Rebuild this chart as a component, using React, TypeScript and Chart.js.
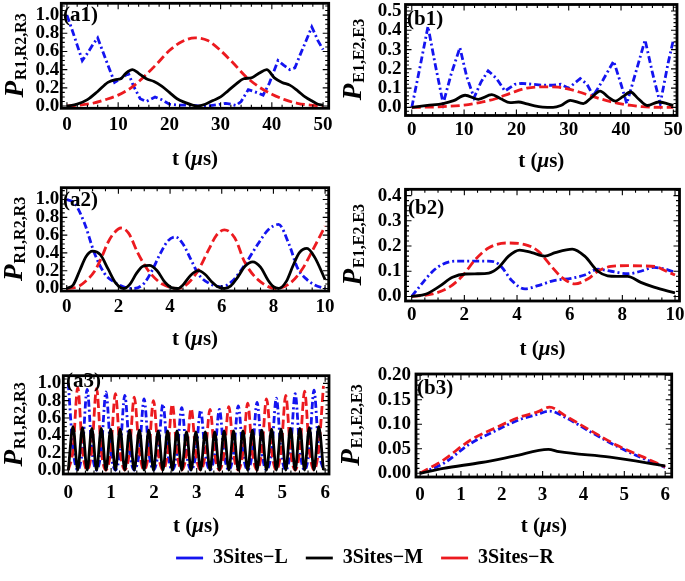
import React, { useEffect, useRef } from 'react';
import { Chart, registerables } from 'chart.js';

Chart.register(...registerables);

const SERIF = '"Liberation Serif", "Times New Roman", Times, serif';
const BLUE = '#1414f0';
const RED = '#ec1a1f';
const BLACK = '#000000';
const DASH_L = [7, 3, 2, 3];
const DASH_R = [9, 4];
const LINE_W = 2.8;
const LEGEND_LABELS = ['3Sites\u2212L', '3Sites\u2212M', '3Sites\u2212R'];

// ---------- (a1) ----------
const a1_tL = [0, 1, 2, 3, 4, 5, 6, 7, 8, 9.3, 10.5, 12, 13, 14.3, 15.5, 17.2, 18.5, 20, 22, 24, 26, 28, 30, 31, 32, 33, 34, 35.4, 36.5, 38.3, 39.5, 41.2, 42.3, 43.5, 44.5, 45.5, 46.7, 47.8, 49, 50];
const a1_L = [1.0, 0.84, 0.67, 0.5, 0.58, 0.67, 0.75, 0.6, 0.45, 0.26, 0.3, 0.36, 0.22, 0.08, 0.05, 0.1, 0.07, 0.02, 0.01, 0.01, 0.0, 0.005, 0.02, 0.03, 0.02, 0.005, 0.05, 0.18, 0.16, 0.12, 0.25, 0.5, 0.45, 0.4, 0.42, 0.56, 0.72, 0.87, 0.72, 0.62];
const a1_tM = [0, 2, 4, 6, 8, 9.5, 10.5, 11.5, 12.8, 14, 15.5, 17, 18.5, 20, 21.5, 23, 24.5, 25.5, 27, 28.5, 30, 31.5, 33, 34.5, 36, 37.5, 39, 40.5, 42, 43.5, 45, 46.5, 48, 49, 50];
const a1_M = [0, 0.02, 0.07, 0.16, 0.26, 0.29, 0.3, 0.36, 0.4, 0.36, 0.3, 0.27, 0.22, 0.15, 0.08, 0.04, 0.01, 0.0, 0.02, 0.06, 0.1, 0.17, 0.24, 0.3, 0.31, 0.36, 0.4, 0.31, 0.26, 0.23, 0.17, 0.1, 0.05, 0.02, 0.01];
const a1_tR = [0, 2.5, 5, 7.5, 10, 12.5, 15, 17.5, 20, 22.5, 25, 27.5, 30, 32.5, 35, 37.5, 40, 42.5, 45, 47.5, 50];
const a1_R = [0, 0.01, 0.03, 0.07, 0.12, 0.2, 0.32, 0.46, 0.61, 0.71, 0.75, 0.72, 0.61, 0.47, 0.32, 0.21, 0.13, 0.07, 0.03, 0.01, 0.0];

// ---------- (b1) ----------
const b1_tL = [0, 1.5, 3.1, 4.5, 6, 7.5, 9.2, 10.5, 11.9, 13.2, 14.6, 16.2, 17.8, 19.7, 21, 23, 25, 27, 28.5, 30, 32.2, 33.5, 34.7, 36.5, 38.6, 40, 41.1, 42.8, 44.6, 46, 47.5, 49, 50];
const b1_L = [0, 0.2, 0.42, 0.22, 0.02, 0.17, 0.31, 0.16, 0.05, 0.13, 0.19, 0.15, 0.085, 0.12, 0.125, 0.12, 0.115, 0.115, 0.12, 0.1, 0.15, 0.12, 0.06, 0.14, 0.24, 0.12, 0.02, 0.18, 0.35, 0.18, 0.02, 0.23, 0.35];
const b1_tM = [0, 3, 6, 8, 10.2, 12.7, 15.3, 17, 18.8, 20.4, 22, 23.5, 25, 27, 28.5, 30.3, 32.8, 34.3, 36, 37.5, 38.9, 40.3, 41.8, 43.3, 45, 47.2, 50];
const b1_M = [0, 0.01, 0.02, 0.035, 0.063, 0.042, 0.066, 0.045, 0.025, 0.028, 0.018, 0.008, 0.002, 0.0, 0.01, 0.037, 0.02, 0.05, 0.085, 0.055, 0.033, 0.055, 0.08, 0.045, 0.01, 0.028, 0.01];
const b1_tR = [0, 5, 10, 13, 16, 19, 22, 25, 28, 30, 32, 34, 36, 38, 40, 42, 44, 46, 48, 50];
const b1_R = [0, 0.003, 0.012, 0.025, 0.045, 0.075, 0.1, 0.107, 0.105, 0.095, 0.08, 0.062, 0.045, 0.03, 0.018, 0.01, 0.004, 0.001, 0, 0];

// ---------- (a2) ----------
const a2_tL = [0, 0.3, 0.68, 1.07, 1.46, 1.85, 2.2, 2.6, 3.0, 3.3, 3.6, 3.9, 4.2, 4.5, 4.8, 5.1, 5.5, 6.0, 6.4, 6.9, 7.4, 7.8, 8.2, 8.6, 8.95, 9.3, 9.6, 10];
const a2_L = [1.0, 0.96, 0.74, 0.4, 0.17, 0.07, 0.02, 0.0, 0.06, 0.2, 0.38, 0.53, 0.58, 0.5, 0.33, 0.16, 0.06, 0.02, 0.08, 0.27, 0.5, 0.66, 0.72, 0.5, 0.22, 0.1, 0.04, 0.0];
const a2_tM = [0, 0.25, 0.5, 0.75, 1.0, 1.3, 1.6, 1.9, 2.2, 2.45, 2.7, 2.95, 3.2, 3.5, 3.8, 4.05, 4.3, 4.5, 4.8, 5.1, 5.35, 5.6, 5.85, 6.1, 6.35, 6.6, 6.9, 7.2, 7.5, 7.8, 8.0, 8.2, 8.5, 8.75, 9.0, 9.3, 9.6, 10];
const a2_M = [0, 0.04, 0.2, 0.36, 0.42, 0.38, 0.22, 0.06, 0.0, 0.05, 0.17, 0.25, 0.26, 0.2, 0.07, 0.01, 0.0, 0.04, 0.15, 0.2, 0.16, 0.08, 0.02, 0.0, 0.03, 0.12, 0.25, 0.3, 0.24, 0.09, 0.02, 0.0, 0.08, 0.25, 0.4, 0.45, 0.35, 0.1];
const a2_tR = [0, 0.43, 0.8, 1.07, 1.35, 1.6, 1.85, 2.1, 2.4, 2.75, 3.0, 3.27, 3.7, 4.3, 4.7, 5.1, 5.5, 5.8, 6.1, 6.5, 6.9, 7.4, 8.1, 8.6, 9.1, 9.5, 10];
const a2_R = [0, 0.02, 0.1, 0.19, 0.35, 0.52, 0.63, 0.68, 0.62, 0.4, 0.27, 0.16, 0.05, 0.0, 0.06, 0.21, 0.44, 0.6, 0.66, 0.57, 0.29, 0.1, 0.0, 0.05, 0.21, 0.42, 0.7];

// ---------- (b2) ----------
const b2_tL = [0, 0.43, 0.8, 1.18, 1.68, 2.3, 2.9, 3.2, 3.43, 3.8, 4.3, 4.8, 5.4, 6.06, 6.57, 7.07, 7.57, 8.2, 8.7, 9.2, 9.57, 10];
const b2_L = [0, 0.056, 0.1, 0.128, 0.14, 0.14, 0.14, 0.135, 0.115, 0.063, 0.03, 0.043, 0.063, 0.072, 0.085, 0.108, 0.1, 0.09, 0.1, 0.115, 0.11, 0.095];
const b2_tM = [0, 0.55, 1.05, 1.55, 2.05, 2.5, 2.93, 3.3, 3.68, 4.1, 4.56, 5.06, 5.45, 6.1, 6.57, 7.07, 7.44, 7.8, 8.2, 8.7, 9.2, 10];
const b2_M = [0, 0.01, 0.04, 0.076, 0.089, 0.09, 0.093, 0.115, 0.16, 0.184, 0.174, 0.16, 0.174, 0.188, 0.16, 0.1, 0.082, 0.08, 0.08, 0.056, 0.037, 0.014];
const b2_tR = [0, 0.8, 1.43, 1.93, 2.43, 2.93, 3.6, 4.3, 4.8, 5.3, 5.7, 6.2, 6.7, 7.07, 7.57, 8.2, 8.8, 9.3, 9.57, 10];
const b2_R = [0, 0.01, 0.037, 0.082, 0.148, 0.193, 0.212, 0.206, 0.18, 0.12, 0.076, 0.05, 0.07, 0.1, 0.119, 0.122, 0.121, 0.118, 0.105, 0.085];

// ---------- (a3) ----------
const a3_t = [0, 0.11, 0.22, 0.33, 0.44, 0.55, 0.66, 0.77, 0.88, 0.99, 1.10, 1.21, 1.32, 1.43, 1.54, 1.66, 1.77, 1.88, 1.99, 2.10, 2.21, 2.32, 2.43, 2.54, 2.65, 2.76, 2.87, 2.98, 3.09, 3.20, 3.31, 3.42, 3.53, 3.64, 3.75, 3.86, 3.97, 4.08, 4.19, 4.30, 4.41, 4.52, 4.63, 4.75, 4.86, 4.97, 5.08, 5.19, 5.30, 5.41, 5.52, 5.63, 5.74, 5.85, 5.96];
const a3_L = [1.0, 0.24, 0, 0.23, 0.93, 0.23, 0, 0.23, 0.9, 0.22, 0, 0.22, 0.86, 0.22, 0, 0.21, 0.82, 0.21, 0, 0.2, 0.76, 0.2, 0, 0.19, 0.72, 0.19, 0, 0.18, 0.69, 0.18, 0, 0.18, 0.7, 0.18, 0, 0.19, 0.74, 0.19, 0, 0.2, 0.78, 0.2, 0, 0.21, 0.83, 0.21, 0, 0.22, 0.88, 0.22, 0, 0.23, 0.92, 0.23, 0];
const a3_M = [0, 0.5, 0, 0.49, 0, 0.48, 0, 0.48, 0, 0.47, 0, 0.47, 0, 0.46, 0, 0.46, 0, 0.46, 0, 0.45, 0, 0.45, 0, 0.45, 0, 0.44, 0, 0.44, 0, 0.44, 0, 0.44, 0, 0.45, 0, 0.45, 0, 0.45, 0, 0.46, 0, 0.46, 0, 0.47, 0, 0.47, 0, 0.48, 0, 0.48, 0, 0.49, 0, 0.5, 0];
const a3_R = [0, 0.23, 0.95, 0.23, 0, 0.23, 0.94, 0.22, 0, 0.22, 0.88, 0.22, 0, 0.21, 0.84, 0.21, 0, 0.2, 0.8, 0.2, 0, 0.19, 0.76, 0.19, 0, 0.18, 0.71, 0.18, 0, 0.18, 0.7, 0.18, 0, 0.19, 0.73, 0.19, 0, 0.2, 0.77, 0.2, 0, 0.21, 0.82, 0.21, 0, 0.22, 0.86, 0.22, 0, 0.23, 0.91, 0.23, 0, 0.24, 0.97];

// ---------- (b3) ----------
const b3_tLR = [0, 0.57, 1.22, 1.8, 2.45, 2.86, 3.17, 3.6, 4.16, 4.82, 5.47, 6];
const b3_L = [0, 0.02, 0.06, 0.085, 0.11, 0.12, 0.127, 0.112, 0.085, 0.055, 0.03, 0.012];
const b3_R = [0, 0.027, 0.067, 0.091, 0.115, 0.125, 0.135, 0.115, 0.088, 0.057, 0.033, 0.013];
const b3_tM = [0, 0.57, 1.5, 2.3, 3.14, 3.4, 4.65, 6];
const b3_M = [0, 0.01, 0.022, 0.035, 0.049, 0.044, 0.033, 0.015];

// ---------- tick labels ----------
const X_TICKS_50 = [0, 10, 20, 30, 40, 50];
const X_TICKS_10 = [0, 2, 4, 6, 8, 10];
const X_TICKS_6 = [0, 1, 2, 3, 4, 5, 6];
const Y_TICKS_A = [0, 0.2, 0.4, 0.6, 0.8, 1.0];
const Y_TICKS_B1 = [0, 0.1, 0.2, 0.3, 0.4, 0.5];
const Y_TICKS_B2 = [0, 0.1, 0.2, 0.3, 0.4];
const Y_TICKS_B3 = [0, 0.05, 0.1, 0.15, 0.2];

type Curve = { t: number[]; v: number[]; smooth: boolean };
type Box = { left: number; top: number; right: number; bottom: number };
type Panel = {
  label: string; sub: string;
  L: Curve; M: Curve; R: Curve;
  xTicks: number[]; xMinor: number; yTicks: number[]; yMinor: number; yDec: number;
  xMin: number; xMax: number; yMin: number; yMax: number;
  canvas: { left: number; top: number; width: number; height: number };
  area: Box;
  tickY: number; titleY: number; titleX: number; labelX: number; labelY: number; yPad: number;
};

const PANELS: Panel[] = [
  {
    label: '(a1)', sub: 'R1,R2,R3',
    L: { t: a1_tL, v: a1_L, smooth: false }, M: { t: a1_tM, v: a1_M, smooth: true }, R: { t: a1_tR, v: a1_R, smooth: true },
    xTicks: X_TICKS_50, xMinor: 2, yTicks: Y_TICKS_A, yMinor: 0.05, yDec: 1,
    xMin: -1.1, xMax: 51.1, yMin: -0.025, yMax: 1.13,
    canvas: { left: 0, top: 0, width: 340, height: 174 },
    area: { left: 61.3, top: 3.3, right: 328.7, bottom: 108.3 },
    tickY: 125, titleY: 160, titleX: 23, labelX: 63, labelY: 16, yPad: 2,
  },
  {
    label: '(b1)', sub: 'E1,E2,E3',
    L: { t: b1_tL, v: b1_L, smooth: false }, M: { t: b1_tM, v: b1_M, smooth: true }, R: { t: b1_tR, v: b1_R, smooth: true },
    xTicks: X_TICKS_50, xMinor: 2, yTicks: Y_TICKS_B1, yMinor: 0.02, yDec: 1,
    xMin: -1.2, xMax: 50.7, yMin: -0.042, yMax: 0.534,
    canvas: { left: 340, top: 0, width: 345, height: 178 },
    area: { left: 405.5, top: 4.5, right: 677, bottom: 115.5 },
    tickY: 130, titleY: 162, titleX: 361, labelX: 407, labelY: 20, yPad: 4,
  },
  {
    label: '(a2)', sub: 'R1,R2,R3',
    L: { t: a2_tL, v: a2_L, smooth: true }, M: { t: a2_tM, v: a2_M, smooth: true }, R: { t: a2_tR, v: a2_R, smooth: true },
    xTicks: X_TICKS_10, xMinor: 0.5, yTicks: Y_TICKS_A, yMinor: 0.05, yDec: 1,
    xMin: -0.21, xMax: 10.14, yMin: -0.028, yMax: 1.133,
    canvas: { left: 0, top: 176, width: 340, height: 180 },
    area: { left: 61.3, top: 187.7, right: 328.7, bottom: 291 },
    tickY: 306.7, titleY: 340, titleX: 22, labelX: 63, labelY: 201, yPad: 2,
  },
  {
    label: '(b2)', sub: 'E1,E2,E3',
    L: { t: b2_tL, v: b2_L, smooth: true }, M: { t: b2_tM, v: b2_M, smooth: true }, R: { t: b2_tR, v: b2_R, smooth: true },
    xTicks: X_TICKS_10, xMinor: 0.5, yTicks: Y_TICKS_B2, yMinor: 0.02, yDec: 1,
    xMin: -0.235, xMax: 10.17, yMin: -0.018, yMax: 0.425,
    canvas: { left: 340, top: 176, width: 345, height: 188 },
    area: { left: 405.5, top: 189.3, right: 679.5, bottom: 301 },
    tickY: 315, titleY: 350, titleX: 361, labelX: 408, labelY: 209, yPad: 4,
  },
  {
    label: '(a3)', sub: 'R1,R2,R3',
    L: { t: a3_t, v: a3_L, smooth: true }, M: { t: a3_t, v: a3_M, smooth: true }, R: { t: a3_t, v: a3_R, smooth: true },
    xTicks: X_TICKS_6, xMinor: 0.2, yTicks: Y_TICKS_A, yMinor: 0.05, yDec: 1,
    xMin: -0.117, xMax: 6.09, yMin: -0.046, yMax: 1.088,
    canvas: { left: 0, top: 362, width: 340, height: 178 },
    area: { left: 63.3, top: 375.7, right: 329, bottom: 474 },
    tickY: 493.3, titleY: 526.7, titleX: 22, labelX: 66, labelY: 382, yPad: 2,
  },
  {
    label: '(b3)', sub: 'E1,E2,E3',
    L: { t: b3_tLR, v: b3_L, smooth: true }, M: { t: b3_tM, v: b3_M, smooth: true }, R: { t: b3_tLR, v: b3_R, smooth: true },
    xTicks: X_TICKS_6, xMinor: 0.2, yTicks: Y_TICKS_B3, yMinor: 0.01, yDec: 2,
    xMin: -0.1, xMax: 6.16, yMin: -0.0076, yMax: 0.2027,
    canvas: { left: 340, top: 360, width: 345, height: 180 },
    area: { left: 416, top: 374, right: 671.7, bottom: 477 },
    tickY: 495, titleY: 526.7, titleX: 359, labelX: 417, labelY: 389, yPad: 5,
  },
];

const toPts = (t: number[], v: number[]) => t.map((x, i) => ({ x, y: v[i] }));

function isMajor(v: number, ticks: number[]) {
  return ticks.some((t) => Math.abs(t - v) < 1e-7);
}

function makeDecor(p: Panel) {
  return {
    id: 'decor',
    afterDatasetsDraw(chart: any) {
      const { ctx, chartArea: ca } = chart;
      const xs = chart.scales.x;
      const ys = chart.scales.y;
      const ox = p.canvas.left;
      const oy = p.canvas.top;
      ctx.save();
      ctx.setLineDash([]);
      ctx.strokeStyle = '#000';
      ctx.lineWidth = 1.1;
      ctx.beginPath();
      for (let k = Math.ceil(p.xMin / p.xMinor - 1e-9); k * p.xMinor <= p.xMax + 1e-9; k++) {
        const v = +(k * p.xMinor).toFixed(6);
        const len = isMajor(v, p.xTicks) ? 6 : 3.5;
        const px = xs.getPixelForValue(v);
        ctx.moveTo(px, ca.bottom); ctx.lineTo(px, ca.bottom - len);
        ctx.moveTo(px, ca.top); ctx.lineTo(px, ca.top + len);
      }
      for (let k = Math.ceil(p.yMin / p.yMinor - 1e-9); k * p.yMinor <= p.yMax + 1e-9; k++) {
        const v = +(k * p.yMinor).toFixed(6);
        const len = isMajor(v, p.yTicks) ? 6 : 3.5;
        const py = ys.getPixelForValue(v);
        ctx.moveTo(ca.left, py); ctx.lineTo(ca.left + len, py);
        ctx.moveTo(ca.right, py); ctx.lineTo(ca.right - len, py);
      }
      ctx.stroke();
      ctx.lineWidth = 2.8;
      ctx.strokeRect(ca.left, ca.top, ca.right - ca.left, ca.bottom - ca.top);

      ctx.fillStyle = '#000';
      // panel label
      ctx.font = `bold 21px ${SERIF}`;
      ctx.textAlign = 'left';
      ctx.textBaseline = 'middle';
      ctx.fillText(p.label, p.labelX - ox, p.labelY - oy);

      // x title: t (μs)
      const parts: [string, string][] = [
        ['t (', `bold 21px ${SERIF}`],
        ['\u03bc', `italic bold 21px ${SERIF}`],
        ['s)', `bold 21px ${SERIF}`],
      ];
      let total = 0;
      const widths = parts.map(([s, f]) => { ctx.font = f; const w = ctx.measureText(s).width; total += w; return w; });
      let x = (ca.left + ca.right) / 2 - total / 2;
      const ty = p.titleY - oy;
      parts.forEach(([s, f], i) => { ctx.font = f; ctx.fillText(s, x, ty); x += widths[i]; });

      // y title: P_{sub}
      const pFont = `italic bold 27px ${SERIF}`;
      const sFont = `bold 16px ${SERIF}`;
      ctx.font = pFont; const wP = ctx.measureText('P').width;
      ctx.font = sFont; const wS = ctx.measureText(p.sub).width;
      ctx.translate(p.titleX - ox, (ca.top + ca.bottom) / 2);
      ctx.rotate(-Math.PI / 2);
      ctx.textBaseline = 'alphabetic';
      const x0 = -(wP + wS) / 2;
      ctx.font = pFont; ctx.fillText('P', x0, 0);
      ctx.font = sFont; ctx.fillText(p.sub, x0 + wP + 1, 3);
      ctx.restore();
    },
  };
}

function buildConfig(p: Panel): any {
  const c = p.canvas;
  const a = p.area;
  const ds = (lab: string, cv: Curve, color: string, dash: number[]) => ({
    label: lab,
    data: toPts(cv.t, cv.v),
    borderColor: color,
    backgroundColor: color,
    borderWidth: LINE_W,
    borderDash: dash,
    pointRadius: 0,
    fill: false,
    tension: cv.smooth ? 0.4 : 0,
    cubicInterpolationMode: cv.smooth ? 'monotone' : 'default',
  });
  const tickFont = { family: SERIF, size: 19, weight: 'bold' };
  return {
    type: 'line',
    data: {
      datasets: [
        ds(LEGEND_LABELS[1], p.M, BLACK, []),
        ds(LEGEND_LABELS[2], p.R, RED, DASH_R),
        ds(LEGEND_LABELS[0], p.L, BLUE, DASH_L),
      ],
    },
    options: {
      responsive: false,
      maintainAspectRatio: false,
      animation: false,
      events: [],
      layout: {
        padding: { left: 0, top: a.top - c.top, right: c.left + c.width - a.right, bottom: 0 },
      },
      plugins: { legend: { display: false }, tooltip: { enabled: false }, title: { display: false } },
      scales: {
        x: {
          type: 'linear', min: p.xMin, max: p.xMax,
          grid: { display: false, drawTicks: false },
          border: { display: false },
          ticks: {
            font: tickFont, color: '#000', autoSkip: false, maxRotation: 0, minRotation: 0,
            padding: p.tickY - a.bottom - 11.4,
            callback: (v: any) => String(Math.round(Number(v))),
          },
          afterBuildTicks: (s: any) => { s.ticks = p.xTicks.map((v) => ({ value: v })); },
          afterFit: (s: any) => { s.height = c.top + c.height - a.bottom; s.paddingLeft = 0; s.paddingRight = 0; },
        },
        y: {
          type: 'linear', min: p.yMin, max: p.yMax,
          grid: { display: false, drawTicks: false },
          border: { display: false },
          ticks: {
            font: tickFont, color: '#000', autoSkip: false,
            padding: p.yPad,
            callback: (v: any) => Number(v).toFixed(p.yDec),
          },
          afterBuildTicks: (s: any) => { s.ticks = p.yTicks.map((v) => ({ value: v })); },
          afterFit: (s: any) => { s.width = a.left - c.left; s.paddingTop = 0; s.paddingBottom = 0; },
        },
      },
    },
    plugins: [makeDecor(p)],
  };
}

function PanelChart({ p }: { p: Panel }) {
  const ref = useRef<HTMLCanvasElement>(null);
  useEffect(() => {
    const chart = new Chart(ref.current as HTMLCanvasElement, buildConfig(p));
    return () => chart.destroy();
  }, [p]);
  const c = p.canvas;
  return (
    <canvas
      ref={ref}
      width={c.width}
      height={c.height}
      style={{ position: 'absolute', left: c.left, top: c.top, width: c.width, height: c.height }}
    />
  );
}

const LEGEND_BOX = { left: 145, top: 530, width: 440, height: 51 };

function LegendChart() {
  const ref = useRef<HTMLCanvasElement>(null);
  useEffect(() => {
    const mk = (lab: string, color: string, dash: number[]) => ({
      label: lab, data: [] as any[], borderColor: color, backgroundColor: color, borderWidth: LINE_W, borderDash: dash, pointRadius: 0,
    });
    const chart = new Chart(ref.current as HTMLCanvasElement, {
      type: 'line',
      data: {
        datasets: [
          mk(LEGEND_LABELS[0], BLUE, DASH_L),
          mk(LEGEND_LABELS[1], BLACK, []),
          mk(LEGEND_LABELS[2], RED, DASH_R),
        ],
      },
      options: {
        responsive: false,
        maintainAspectRatio: false,
        animation: false,
        events: [],
        layout: { padding: 0 },
        scales: { x: { display: false }, y: { display: false } },
        plugins: {
          tooltip: { enabled: false },
          legend: {
            display: true,
            position: 'top',
            maxHeight: 51,
            labels: {
              usePointStyle: true,
              pointStyle: 'line',
              pointStyleWidth: 27,
              boxHeight: 20,
              padding: 18,
              color: '#000',
              font: { family: SERIF, size: 20, weight: 'bold' },
            },
          },
        },
      } as any,
    });
    return () => chart.destroy();
  }, []);
  const b = LEGEND_BOX;
  return (
    <canvas
      ref={ref}
      width={b.width}
      height={b.height}
      style={{ position: 'absolute', left: b.left, top: b.top, width: b.width, height: b.height }}
    />
  );
}

export default function App() {
  return (
    <div style={{ position: 'absolute', left: 0, top: 0, width: 685, height: 581, background: '#fff', overflow: 'hidden' }}>
      {PANELS.map((p) => (
        <PanelChart key={p.label} p={p} />
      ))}
      <LegendChart />
    </div>
  );
}
